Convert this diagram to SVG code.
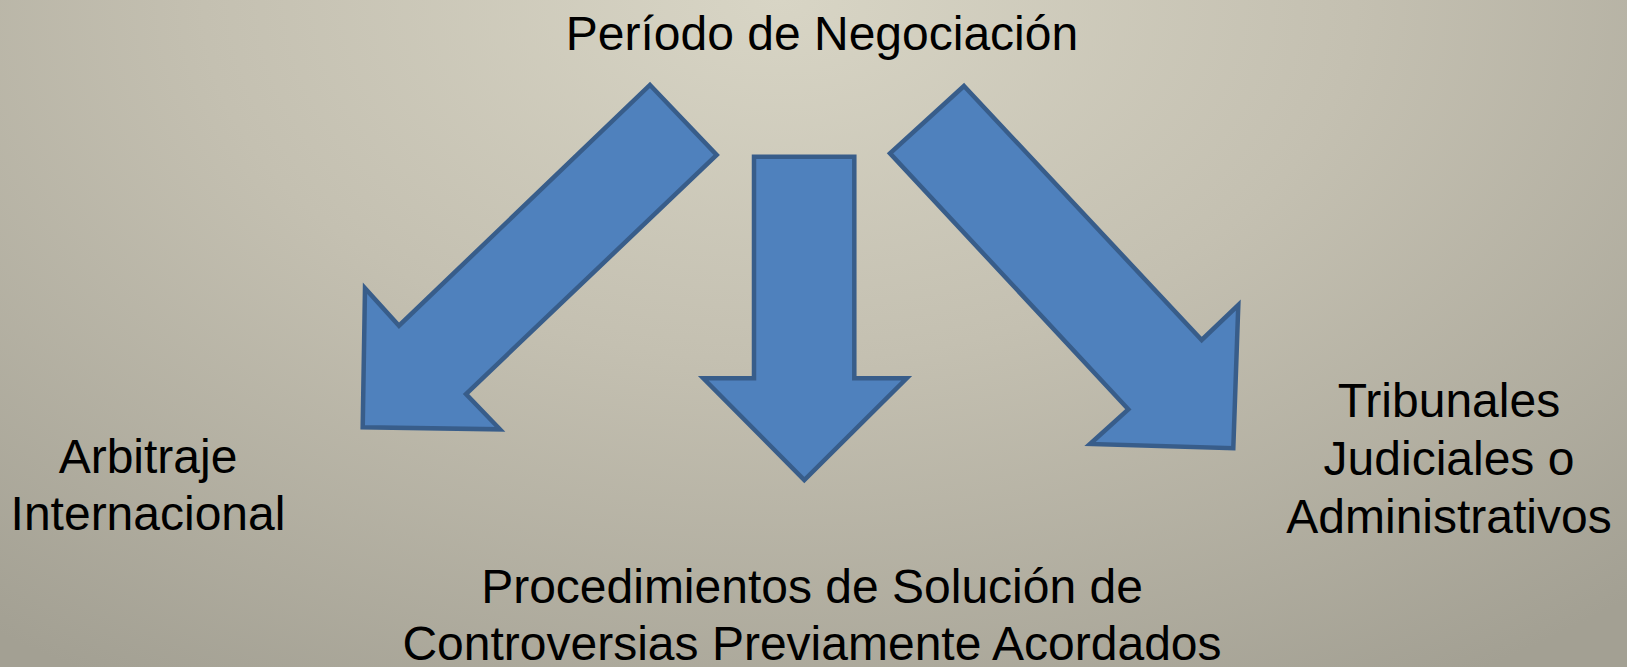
<svg xmlns="http://www.w3.org/2000/svg" width="1627" height="667" viewBox="0 0 1627 667">
  <defs>
    <radialGradient id="bg" gradientUnits="userSpaceOnUse" cx="780" cy="0" r="800" fx="780" fy="0" gradientTransform="translate(780 0) scale(1.6 1) translate(-780 0)">
      <stop offset="0" stop-color="#d8d5c5"/>
      <stop offset="0.45" stop-color="#c4c0b1"/>
      <stop offset="1" stop-color="#a3a093"/>
    </radialGradient>
    <style>
      .arrow { fill: #4f81bd; stroke: #385d8a; stroke-width: 4.5; stroke-linejoin: miter; }
      .lbl { font-family: "Liberation Sans", Arial, sans-serif; font-size: 48px; fill: #000; text-anchor: middle; }
    </style>
  </defs>
  <rect x="0" y="0" width="1627" height="667" fill="url(#bg)"/>

  <g id="connectors">
    <polygon id="arrow-left" class="arrow" points="650,85 716.7,155 466,394 500,429.3 362.7,427.3 365,288.3 399,325.7"/>
    <polygon id="arrow-center" class="arrow" points="754,156.7 854.3,156.7 854.3,378.3 906.7,378.3 804.3,480 703.3,378.3 754,378.3"/>
    <polygon id="arrow-right" class="arrow" points="964,86 1201.7,340 1238.3,305 1233.3,448.3 1090,444 1128.3,409.3 890,153.3"/>
  </g>

  <g id="node-negociacion">
    <text class="lbl" x="822" y="50">Período de Negociación</text>
  </g>
  <g id="node-arbitraje">
    <text class="lbl" x="148" y="473">Arbitraje</text>
    <text class="lbl" x="148" y="530">Internacional</text>
  </g>
  <g id="node-tribunales">
    <text class="lbl" x="1449" y="417">Tribunales</text>
    <text class="lbl" x="1449" y="475">Judiciales o</text>
    <text class="lbl" x="1449" y="533">Administrativos</text>
  </g>
  <g id="node-procedimientos">
    <text class="lbl" x="812" y="603">Procedimientos de Solución de</text>
    <text class="lbl" x="812" y="660">Controversias Previamente Acordados</text>
  </g>
</svg>
